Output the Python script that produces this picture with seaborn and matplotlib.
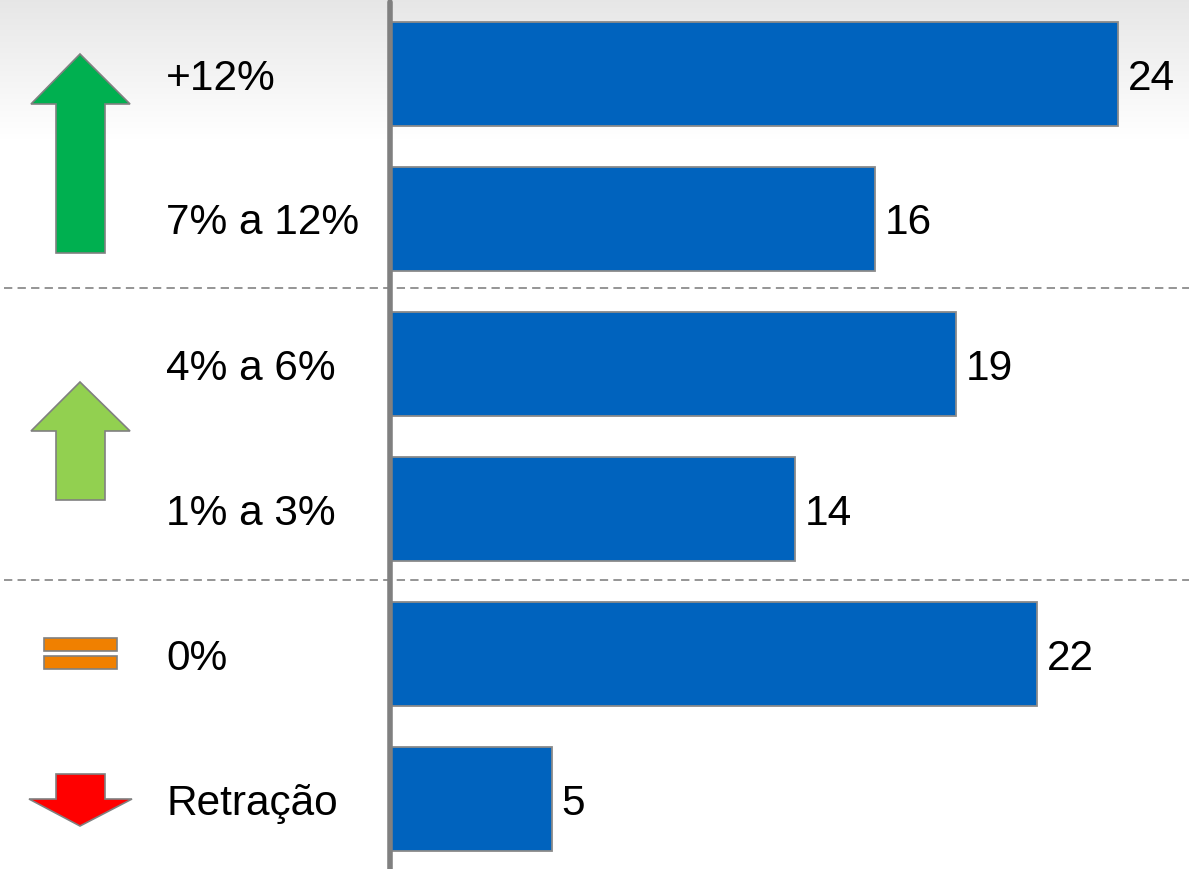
import numpy as np
import pandas as pd
import matplotlib
matplotlib.use("Agg")
import matplotlib.pyplot as plt
import matplotlib.transforms as mtransforms
from matplotlib.patches import Polygon, Rectangle
import seaborn as sns

# ---- data ----
categories = ["+12%", "7% a 12%", "4% a 6%", "1% a 3%", "0%", "Retração"]
values = [24.3, 16.2, 18.9, 13.5, 21.6, 5.4]
value_labels = ["24", "16", "19", "14", "22", "5"]

sns.set_theme(style="white")
plt.rcParams["font.family"] = ["Liberation Sans", "DejaVu Sans"]

W, H = 1189, 869
fig = plt.figure(figsize=(W / 100, H / 100), dpi=100)

# background gradient
bg = fig.add_axes([0, 0, 1, 1], zorder=-1)
grad_h = 140
g = np.ones((H, 1))
ramp = np.linspace(0.905, 1.0, grad_h)
g[:grad_h, 0] = ramp
bg.imshow(np.dstack([g, g, g]), aspect="auto", extent=[0, 1, 0, 1],
          interpolation="bilinear")
bg.axis("off")

ax = fig.add_axes([0, 0, 1, 1])
ax.set_facecolor("none")

df = pd.DataFrame({"cat": categories, "val": values})
sns.barplot(data=df, x="val", y="cat", orient="h", color="#0063BE",
            saturation=1, width=0.717, edgecolor="#8a8a8a", linewidth=1.3,
            ax=ax, zorder=2)

px_per_unit = 29.95
x0 = 390.3
ax.set_xlim(-x0 / px_per_unit, (W - x0) / px_per_unit)
ax.set_ylim((H - 74) / 145, -74 / 145)
ax.set_xticks([])
ax.set_yticks([])
ax.set_xlabel("")
ax.set_ylabel("")
for s in ax.spines.values():
    s.set_visible(False)

# vertical axis line
ax.axvline(0, ymin=0, ymax=1 - 2 / H, color="#808080", lw=4.0, zorder=3)

# dashed separators
for yy in [1.475, 3.49]:
    ax.axhline(yy, xmin=4 / W, xmax=1, color="#8c8c8c", lw=1.3,
               linestyle=(0, (4.6, 2.9)), zorder=1)

# value labels
for i, (v, lab) in enumerate(zip(values, value_labels)):
    ax.annotate(lab, xy=(v, i), xytext=(7, 0), textcoords="offset points",
                ha="left", va="center_baseline", fontsize=30.5, color="black")

# category labels
tr = mtransforms.blended_transform_factory(fig.transFigure, ax.transData)
for i, c in enumerate(categories):
    ax.text(166 / W, i, c, transform=tr, ha="left", va="center_baseline",
            fontsize=30.5, color="black")

# icons in pixel coordinates (origin top-left)
pix = mtransforms.Affine2D().scale(1 / W, -1 / H).translate(0, 1) + fig.transFigure
edge = "#808080"

def up_arrow(apex_y, base_y, bottom_y, color):
    pts = [(80, apex_y), (130, base_y), (105, base_y), (105, bottom_y),
           (56, bottom_y), (56, base_y), (31, base_y)]
    fig.add_artist(Polygon(pts, closed=True, facecolor=color, edgecolor=edge,
                           lw=1.2, transform=pix))

up_arrow(54, 104, 253, "#00B050")
up_arrow(382, 431, 500, "#92D050")

for (y1, y2) in [(638, 651), (656, 669)]:
    fig.add_artist(Rectangle((44, y1), 73, y2 - y1, facecolor="#F08000",
                             edgecolor=edge, lw=1.2, transform=pix))

red_pts = [(56, 774), (105, 774), (105, 799), (132, 799), (80, 826),
           (29, 799), (56, 799)]
fig.add_artist(Polygon(red_pts, closed=True, facecolor="#FF0000",
                       edgecolor=edge, lw=1.2, transform=pix))

fig.savefig("out.png", dpi=100)
